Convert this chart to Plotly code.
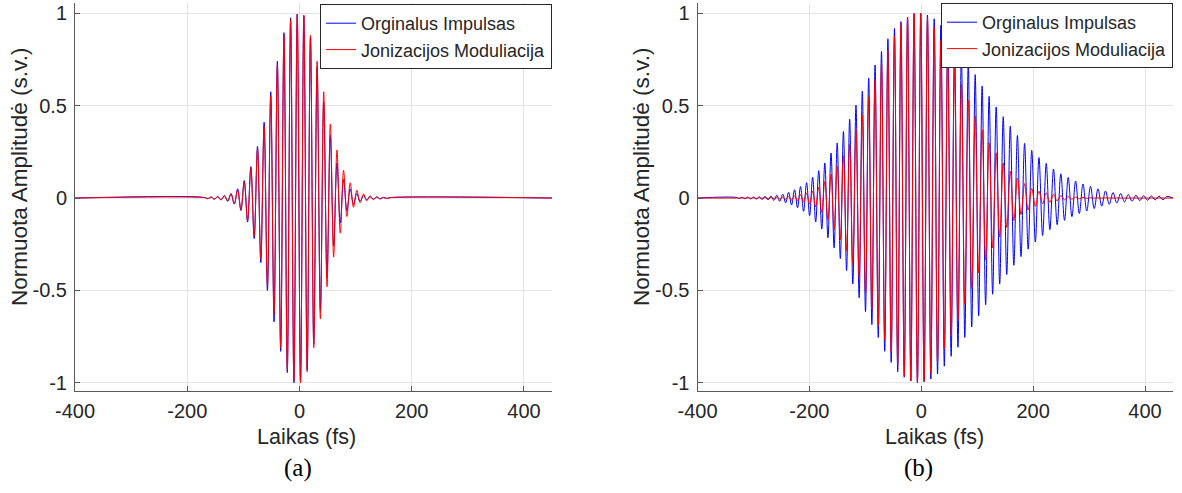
import plotly.graph_objects as go

# ---------------- data ----------------
# (a) positive-peak times (fs), shared by both traces
A_PEAK_T = [-169.2, -157.4, -145.6, -133.8, -122.0, -110.2, -98.4, -86.6, -74.8,
            -63.0, -51.2, -39.4, -27.6, -15.8, -4.0, 7.8, 19.6, 31.4, 43.2, 55.0,
            66.8, 78.6, 90.4, 102.2, 114.0, 125.8, 137.6, 149.4, 161.2]
# amplitudes of the positive peaks / following troughs
A_BLUE_POS = [0.003, 0.006, 0.009, 0.014, 0.025, 0.05, 0.095, 0.17, 0.28, 0.41,
              0.575, 0.74, 0.895, 0.975, 0.995, 0.985, 0.87, 0.71, 0.52, 0.34,
              0.19, 0.10, 0.05, 0.024, 0.013, 0.007, 0.005, 0.003, 0.002]
A_BLUE_NEG = [0.004, 0.007, 0.011, 0.018, 0.033, 0.068, 0.13, 0.22, 0.35, 0.50,
              0.67, 0.83, 0.945, 1.0, 0.99, 0.93, 0.79, 0.61, 0.42, 0.26,
              0.135, 0.07, 0.035, 0.018, 0.01, 0.006, 0.004, 0.002]
A_RED_POS = [0.002, 0.004, 0.007, 0.011, 0.02, 0.042, 0.085, 0.16, 0.265, 0.39,
             0.555, 0.72, 0.88, 0.965, 0.995, 0.99, 0.88, 0.74, 0.575, 0.40,
             0.26, 0.15, 0.082, 0.042, 0.022, 0.012, 0.007, 0.004, 0.002]
A_RED_NEG = [0.003, 0.005, 0.009, 0.015, 0.03, 0.062, 0.12, 0.205, 0.33, 0.475,
             0.63, 0.81, 0.93, 0.99, 1.0, 0.94, 0.81, 0.655, 0.48, 0.32,
             0.19, 0.10, 0.05, 0.026, 0.015, 0.009, 0.005, 0.003]

# (b) positive-peak times (fs)
B_PEAK_T = [-330.3, -320.2, -310.0, -299.8, -289.5, -279.2, -268.7, -258.3, -247.7,
            -237.2, -226.5, -215.8, -205.0, -194.2, -183.3, -172.4, -161.3, -150.3,
            -139.1, -128.0, -116.7, -105.4, -94.0, -82.6, -71.1, -59.6, -47.9, -36.3,
            -24.5, -12.8, -0.9, 11.1, 23.1, 35.1, 47.3, 59.5, 71.7, 84.0, 96.4, 108.8,
            121.3, 133.9, 146.5, 159.1, 171.9, 184.7, 197.5, 210.4, 223.4, 236.4,
            249.5, 262.7, 275.9, 289.1, 302.5, 315.9, 329.3, 342.8, 356.4, 370.0,
            383.7, 397.5, 411.3, 425.1, 439.1]
B_BLUE_POS = [0.003, 0.004, 0.005, 0.006, 0.007, 0.009, 0.011, 0.015, 0.021, 0.031,
              0.045, 0.062, 0.083, 0.112, 0.148, 0.19, 0.243, 0.298, 0.36, 0.427,
              0.503, 0.578, 0.65, 0.72, 0.793, 0.862, 0.918, 0.955, 0.98, 0.997,
              1.0, 0.99, 0.97, 0.935, 0.883, 0.832, 0.783, 0.727, 0.668, 0.606,
              0.55, 0.493, 0.44, 0.389, 0.339, 0.296, 0.258, 0.219, 0.187, 0.157,
              0.131, 0.111, 0.092, 0.076, 0.063, 0.05, 0.038, 0.03, 0.024, 0.019,
              0.015, 0.013, 0.011, 0.01, 0.008]
B_BLUE_NEG = [0.003, 0.004, 0.005, 0.006, 0.008, 0.010, 0.013, 0.018, 0.026, 0.038,
              0.053, 0.072, 0.096, 0.13, 0.168, 0.215, 0.27, 0.328, 0.393, 0.465,
              0.54, 0.615, 0.685, 0.755, 0.83, 0.89, 0.94, 0.97, 0.99, 1.0,
              0.995, 0.98, 0.953, 0.91, 0.857, 0.808, 0.755, 0.698, 0.637, 0.578,
              0.521, 0.466, 0.414, 0.364, 0.317, 0.277, 0.238, 0.203, 0.171, 0.144,
              0.121, 0.101, 0.084, 0.07, 0.057, 0.044, 0.034, 0.027, 0.021, 0.017,
              0.014, 0.012, 0.01, 0.009]
B_RED_POS = [0.0, 0.001, 0.001, 0.001, 0.002, 0.002, 0.003, 0.004, 0.005, 0.008,
             0.012, 0.018, 0.026, 0.038, 0.058, 0.09, 0.13, 0.175, 0.228, 0.29,
             0.37, 0.45, 0.545, 0.645, 0.73, 0.80, 0.875, 0.94, 0.98, 1.0,
             1.0, 0.975, 0.925, 0.855, 0.775, 0.70, 0.615, 0.53, 0.445, 0.37,
             0.30, 0.245, 0.19, 0.145, 0.108, 0.078, 0.052, 0.037, 0.028, 0.02,
             0.013, 0.008, 0.005, 0.003, 0.002, 0.001, 0.001, 0.0, 0.0, 0.0,
             0.0, 0.0, 0.0, 0.0, 0.0]
B_RED_NEG = [0.0, 0.001, 0.001, 0.002, 0.002, 0.003, 0.003, 0.005, 0.007, 0.01,
             0.015, 0.022, 0.032, 0.048, 0.078, 0.12, 0.17, 0.225, 0.285, 0.355,
             0.435, 0.515, 0.60, 0.69, 0.77, 0.835, 0.905, 0.965, 0.99, 1.0,
             0.99, 0.95, 0.89, 0.815, 0.74, 0.66, 0.575, 0.49, 0.405, 0.335,
             0.27, 0.21, 0.16, 0.122, 0.09, 0.065, 0.045, 0.032, 0.024, 0.016,
             0.01, 0.006, 0.004, 0.002, 0.001, 0.001, 0.0, 0.0, 0.0, 0.0,
             0.0, 0.0, 0.0, 0.0]

X_RANGE = [-400, 450]
X_TICKS = [-400, -200, 0, 200, 400]
X_TICKTEXT = ["-400", "-200", "0", "200", "400"]
Y_TICKS = [-1, -0.5, 0, 0.5, 1]
Y_TICKTEXT = ["-1", "-0.5", "0", "0.5", "1"]
NAMES = ["Orginalus Impulsas", "Jonizacijos Moduliacija"]
XLABEL = "Laikas (fs)"
YLABEL = "Normuota Amplitudė (s.v.)"
CAPTIONS = ["(a)", "(b)"]


def build(peak_t, pos, neg):
    xs, ys = [X_RANGE[0]], [0.0]
    n = len(peak_t)
    for i in range(n):
        xs.append(peak_t[i]); ys.append(pos[i] if i < len(pos) else 0.0)
        if i < n - 1 and i < len(neg):
            xs.append((peak_t[i] + peak_t[i + 1]) / 2.0); ys.append(-neg[i])
    xs.append(X_RANGE[1]); ys.append(0.0)
    return xs, ys


W, H = 1182, 493
TXT = "#262626"
FONT = "Liberation Sans"

fig = go.Figure()

panels = [
    dict(xa="x", ya="y", lg="legend", t=A_PEAK_T,
         blue=(A_BLUE_POS, A_BLUE_NEG), red=(A_RED_POS, A_RED_NEG)),
    dict(xa="x2", ya="y2", lg="legend2", t=B_PEAK_T,
         blue=(B_BLUE_POS, B_BLUE_NEG), red=(B_RED_POS, B_RED_NEG)),
]
for p in panels:
    bx, by = build(p["t"], *p["blue"])
    rx, ry = build(p["t"], *p["red"])
    fig.add_trace(go.Scatter(x=bx, y=by, mode="lines", name=NAMES[0],
                             line=dict(color="#0000ff", width=1, shape="spline", smoothing=1.0),
                             xaxis=p["xa"], yaxis=p["ya"], legend=p["lg"]))
    fig.add_trace(go.Scatter(x=rx, y=ry, mode="lines", name=NAMES[1],
                             line=dict(color="#ff0000", width=1, shape="spline", smoothing=1.0),
                             xaxis=p["xa"], yaxis=p["ya"], legend=p["lg"]))

# pixel geometry of the two axes boxes
AX = [(75, 552), (697.5, 1173)]
Y_TOP, Y_BOT = 3.3, 390.7


def px(xp):
    return xp / W


def py(yp):
    return 1 - yp / H


axis_common = dict(showline=True, linecolor="#5a5a5a", linewidth=1, ticks="inside",
                   ticklen=5, tickcolor="#5a5a5a", showgrid=True, gridcolor="#e3e3e3",
                   gridwidth=1, zeroline=False, automargin=False,
                   tickfont=dict(family=FONT, size=20, color=TXT))

for i, (x0, x1) in enumerate(AX):
    sx = "" if i == 0 else "2"
    fig.update_layout(**{
        "xaxis" + sx: dict(axis_common, domain=[px(x0), px(x1)], range=X_RANGE,
                           tickvals=X_TICKS, ticktext=X_TICKTEXT, anchor="y" + sx,
                           ticklabelstandoff=2),
        "yaxis" + sx: dict(axis_common, domain=[py(Y_BOT), py(Y_TOP)], range=[-1.043, 1.054],
                           tickvals=Y_TICKS, ticktext=Y_TICKTEXT, anchor="x" + sx,
                           ticklabelstandoff=3),
    })

ann = []
XLAB_CX = [306, 935]
YLAB_CX = [19, 641]
CAP_CX = [298, 918]
for i in range(2):
    ann.append(dict(text=XLABEL, x=px(XLAB_CX[i]), y=py(437), xref="paper", yref="paper",
                    xanchor="center", yanchor="middle", showarrow=False, borderpad=0,
                    font=dict(family=FONT, size=21.5, color=TXT)))
    ann.append(dict(text=YLABEL, x=px(YLAB_CX[i]), y=py(177), xref="paper", yref="paper",
                    xanchor="center", yanchor="middle", showarrow=False, textangle=-90,
                    borderpad=0, font=dict(family=FONT, size=22.5, color=TXT)))
    ann.append(dict(text=CAPTIONS[i], x=px(CAP_CX[i]), y=py(468), xref="paper", yref="paper",
                    xanchor="center", yanchor="middle", showarrow=False, borderpad=0,
                    font=dict(family="Liberation Serif", size=25, color="#000000")))

legend_common = dict(font=dict(family=FONT, size=18, color=TXT), bgcolor="#ffffff",
                     bordercolor="#262626", borderwidth=1, xanchor="right", yanchor="top",
                     itemwidth=30, tracegroupgap=0)

fig.update_layout(
    width=W, height=H, margin=dict(l=0, r=0, t=0, b=0, autoexpand=False),
    paper_bgcolor="#ffffff", plot_bgcolor="#ffffff",
    showlegend=True, annotations=ann,
    legend=dict(legend_common, x=px(552), y=py(4)),
    legend2=dict(legend_common, x=px(1173), y=py(3)),
)

fig.write_html("out.html", config={"displayModeBar": False},
               post_script="document.body.style.margin='0';document.body.style.overflow='hidden';")
